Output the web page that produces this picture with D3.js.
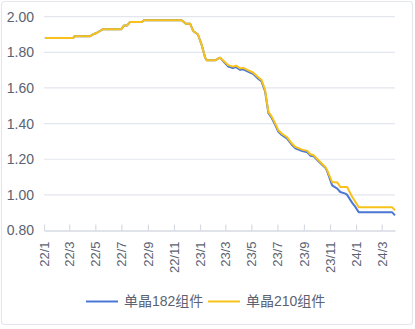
<!DOCTYPE html>
<html><head><meta charset="utf-8">
<script src="https://cdn.jsdelivr.net/npm/d3@7"></script>
<style>
html,body{margin:0;padding:0;background:#fff;}
svg{display:block;font-family:"Liberation Sans","Noto Sans CJK SC",sans-serif;}
</style></head>
<body><svg id="c" width="415" height="329"></svg>
<script>
const dates = ["2022-01-03","2022-03-10","2022-03-13","2022-04-18","2022-04-25","2022-05-05","2022-05-19","2022-07-01","2022-07-07","2022-07-14","2022-07-21","2022-08-18","2022-08-23","2022-11-19","2022-11-29","2022-12-09","2022-12-16","2022-12-27","2023-01-05","2023-01-13","2023-01-17","2023-02-05","2023-02-17","2023-02-26","2023-03-08","2023-03-19","2023-03-26","2023-04-05","2023-04-12","2023-04-23","2023-05-05","2023-05-17","2023-05-25","2023-06-02","2023-06-10","2023-06-18","2023-06-26","2023-07-03","2023-07-11","2023-07-23","2023-08-04","2023-08-12","2023-08-28","2023-09-09","2023-09-16","2023-09-24","2023-10-05","2023-10-21","2023-10-25","2023-11-06","2023-11-18","2023-11-25","2023-12-07","2023-12-11","2023-12-23","2023-12-28","2024-01-07","2024-03-25","2024-04-01"];
const price210 = [1.88,1.88,1.89,1.89,1.90,1.91,1.93,1.93,1.95,1.95,1.97,1.97,1.98,1.98,1.96,1.96,1.92,1.90,1.84,1.77,1.755,1.755,1.77,1.75,1.728,1.72,1.725,1.71,1.713,1.70,1.687,1.66,1.644,1.59,1.466,1.438,1.40,1.363,1.344,1.325,1.288,1.269,1.254,1.247,1.228,1.222,1.194,1.156,1.14,1.072,1.07,1.044,1.044,1.044,0.988,0.97,0.931,0.931,0.913];
const price182 = [1.88,1.88,1.89,1.89,1.90,1.91,1.93,1.93,1.95,1.95,1.97,1.97,1.98,1.98,1.96,1.96,1.92,1.90,1.84,1.77,1.755,1.755,1.77,1.745,1.72,1.712,1.717,1.702,1.705,1.692,1.679,1.652,1.636,1.582,1.458,1.43,1.392,1.355,1.336,1.317,1.28,1.261,1.246,1.239,1.22,1.216,1.189,1.152,1.135,1.053,1.035,1.016,1.007,1.00,0.955,0.94,0.903,0.903,0.885];
const yTicks = [0.80,1.00,1.20,1.40,1.60,1.80,2.00];
const xTickLabels = ["22/1","22/3","22/5","22/7","22/9","22/11","23/1","23/3","23/5","23/7","23/9","23/11","24/1","24/3"];
const seriesNames = ["单晶182组件","单晶210组件"];

const parse = d3.timeParse("%Y-%m-%d");
const svg = d3.select("#c");
svg.append("rect").attr("x",1.5).attr("y",1.5).attr("width",411).attr("height",323)
  .attr("rx",3).attr("fill","#fff").attr("stroke","#e4e7ec").attr("stroke-width",1.2);

const x = d3.scaleTime().domain([parse("2022-01-01"), parse("2024-04-01")]).range([44,395]);
const y = d3.scaleLinear().domain([0.8,2.0]).range([230.5,16.7]);

// grid
svg.append("g").selectAll("line").data(yTicks.filter(v=>v>0.8)).join("line")
  .attr("x1",44).attr("x2",395).attr("y1",d=>y(d)).attr("y2",d=>y(d))
  .attr("stroke","#e3e6ec").attr("stroke-width",1.2);

// y axis
const yAxis = svg.append("g").attr("transform","translate(44,0)")
  .call(d3.axisLeft(y).tickValues(yTicks).tickFormat(d3.format(".2f")).tickSize(0).tickPadding(10));
yAxis.select(".domain").remove();
yAxis.selectAll("text").attr("font-size",14).attr("fill","#5b6272");

// x axis
const monthDates = xTickLabels.map(s=>{const [yy,mm]=s.split("/"); return new Date(2000+ +yy, +mm-1, 1);});
const xAxis = svg.append("g").attr("transform","translate(0,230.5)")
  .call(d3.axisBottom(x).tickValues(monthDates).tickFormat((d,i)=>xTickLabels[i]).tickSize(-6).tickSizeOuter(0));
xAxis.select(".domain").attr("stroke","#d6dae2").attr("stroke-width",1.5);
xAxis.selectAll(".tick line").attr("stroke","#d6dae2").attr("stroke-width",1.2);
xAxis.selectAll("text").attr("font-size",13).attr("fill","#5b6272")
  .attr("text-anchor","end").attr("transform","rotate(-90)").attr("x",-11).attr("y",0).attr("dy","0.35em");

const colors = ["#4a78d4","#f8c21b"];
const line = d3.line().x(d=>x(d[0])).y(d=>y(d[1]));
const pd = dates.map(parse);
[price182, price210].forEach((vals,i)=>{
  svg.append("path").datum(pd.map((d,j)=>[d,vals[j]]))
    .attr("d",line).attr("fill","none").attr("stroke",colors[i]).attr("stroke-width",2)
    .attr("stroke-linejoin","round");
});

// legend
const legX = [86,208];
seriesNames.forEach((n,i)=>{
  const g = svg.append("g").attr("transform",`translate(${legX[i]},301.5)`);
  g.append("line").attr("x1",0).attr("x2",32).attr("stroke",colors[i]).attr("stroke-width",2);
  g.append("text").attr("x",38).attr("dy","0.35em").attr("font-size",14).attr("fill","#5b6272").text(n);
});
</script></body></html>
